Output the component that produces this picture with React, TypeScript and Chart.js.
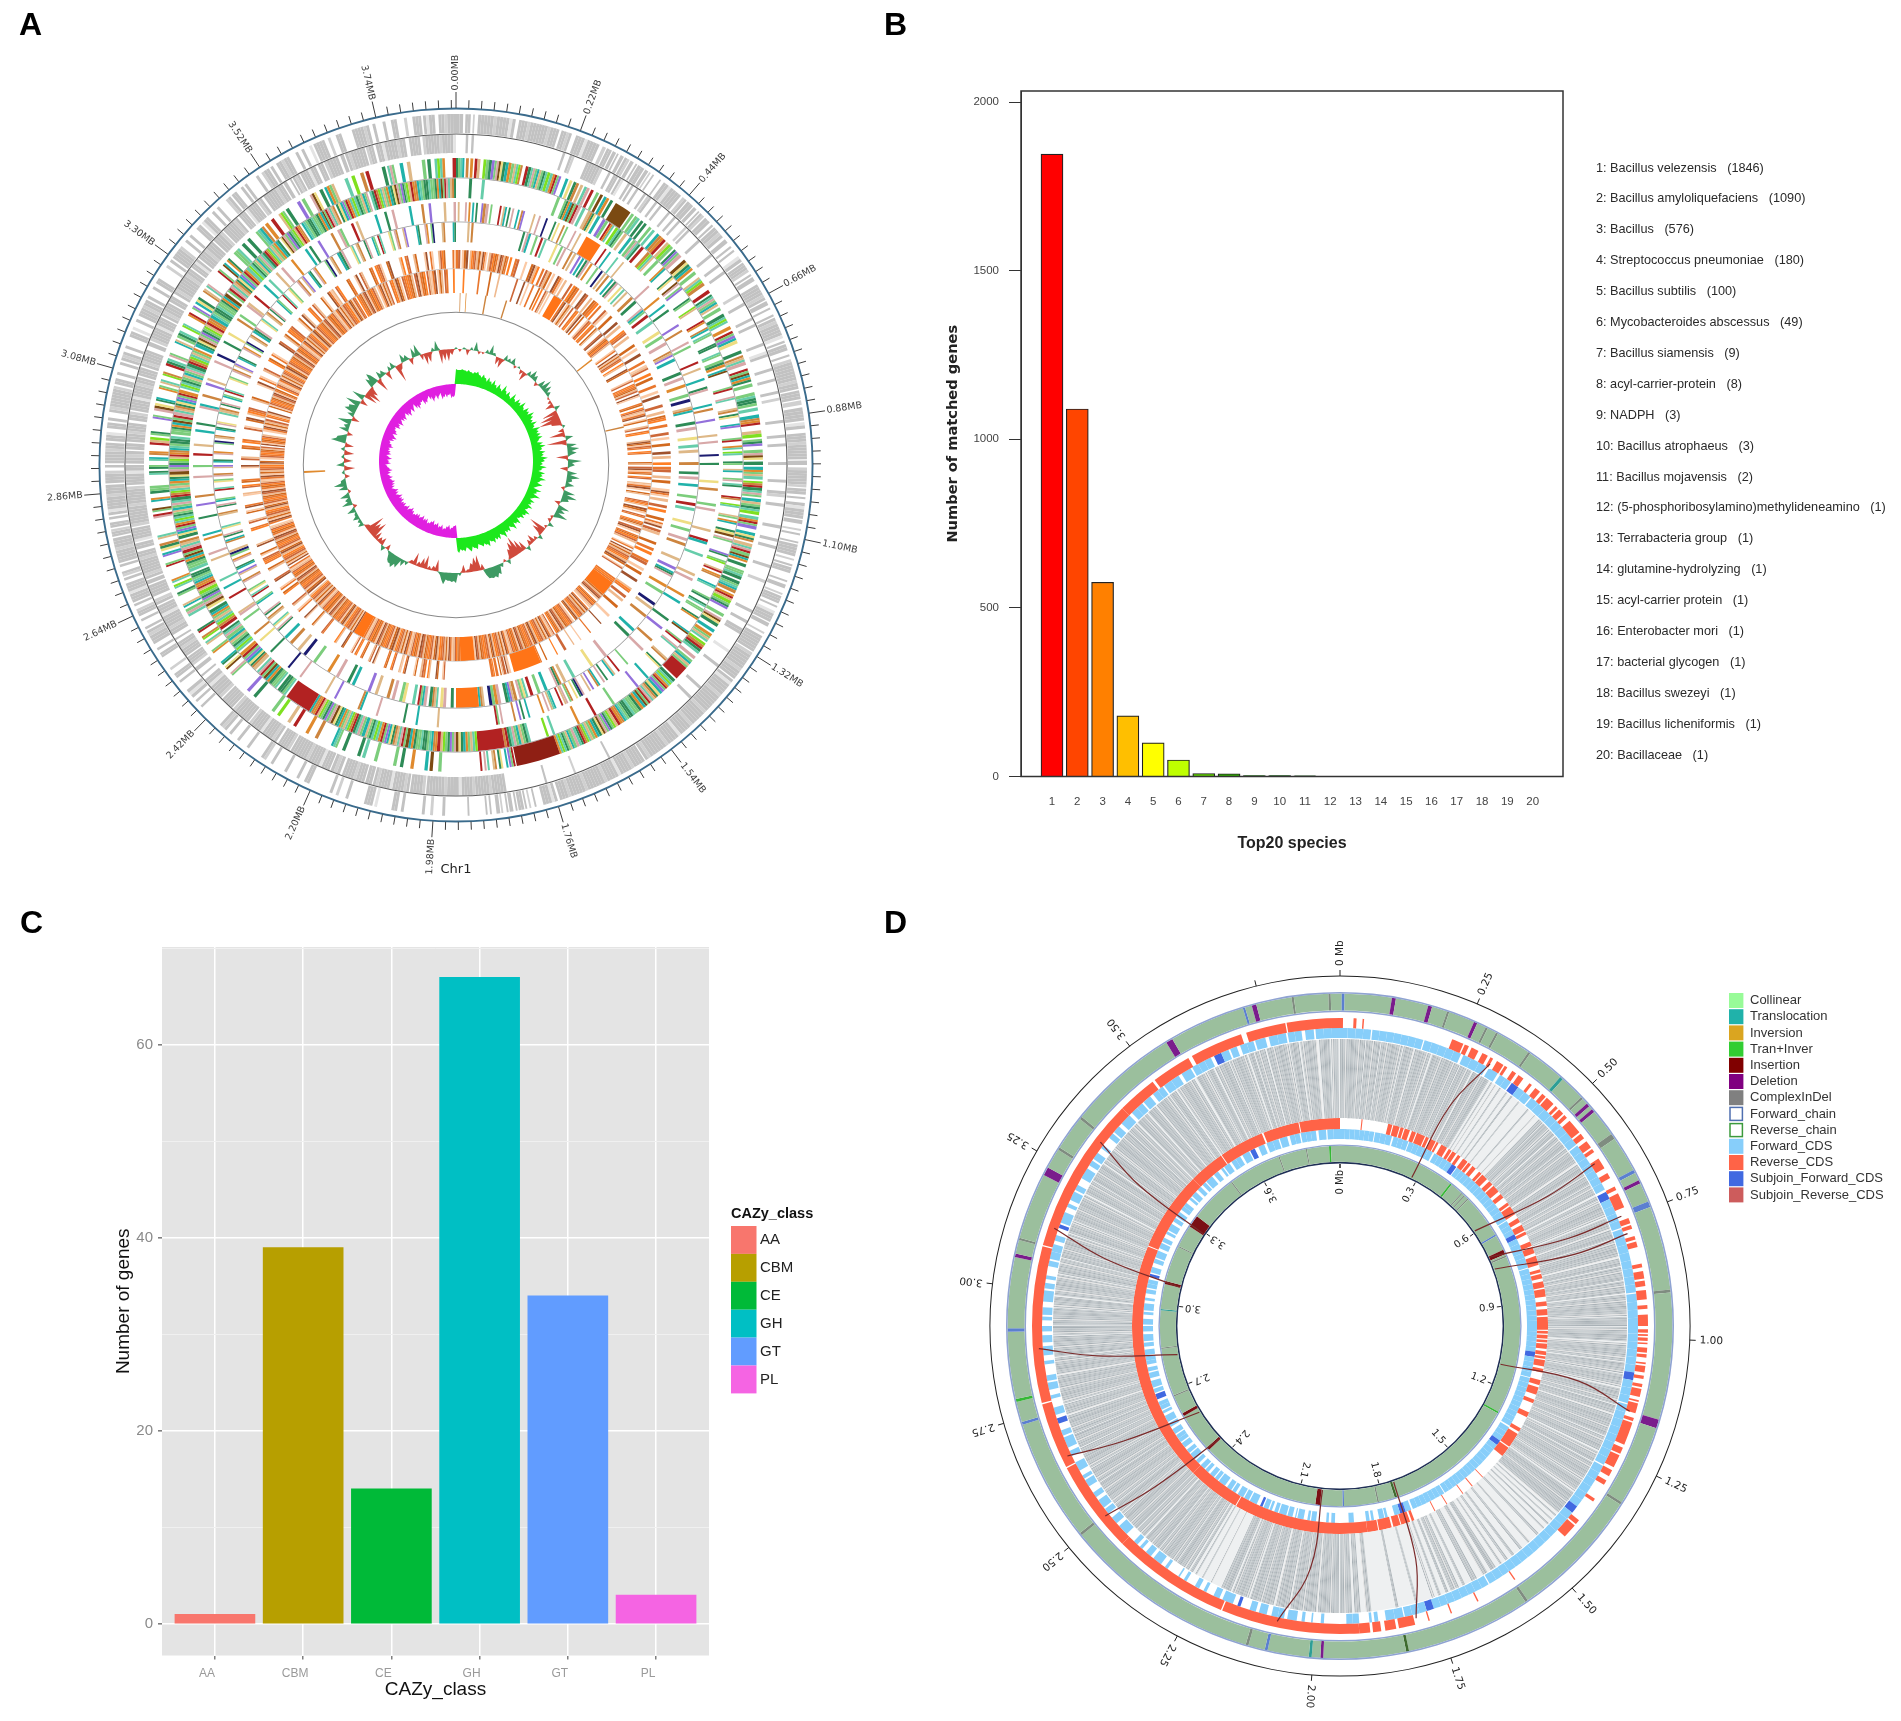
import React, { useEffect, useRef } from "react";
import { Chart, registerables } from "chart.js";
Chart.register(...registerables);

const SANS = "'Liberation Sans', Arial, sans-serif";
const DEJA = "'DejaVu Sans', sans-serif";

// ---------- Panel B ----------
const speciesRank = [1,2,3,4,5,6,7,8,9,10,11,12,13,14,15,16,17,18,19,20];
const speciesCounts = [1846,1090,576,180,100,49,9,8,3,3,2,1,1,1,1,1,1,1,1,1];
const speciesNames = ["Bacillus velezensis","Bacillus amyloliquefaciens","Bacillus","Streptococcus pneumoniae","Bacillus subtilis","Mycobacteroides abscessus","Bacillus siamensis","acyl-carrier-protein","NADPH","Bacillus atrophaeus","Bacillus mojavensis","(5-phosphoribosylamino)methylideneamino","Terrabacteria group","glutamine-hydrolyzing","acyl-carrier protein","Enterobacter mori","bacterial glycogen","Bacillus swezeyi","Bacillus licheniformis","Bacillaceae"];
const speciesColors = ["#FF0000","#FF4500","#FF8000","#FFBF00","#FFFF00","#BFFF00","#60D000","#30B000","#109000","#008000","#006000","#004000","#003000","#003000","#003000","#003000","#003000","#003000","#003000","#003000"];
const speciesTicks = [0,500,1000,1500,2000];

// ---------- Panel C ----------
const cazyClasses = ["AA","CBM","CE","GH","GT","PL"];
const cazyCounts = [1,39,14,67,34,3];
const cazyColors = ["#F8766D","#B79F00","#00BA38","#00BFC4","#619CFF","#F564E3"];

// ---------- Palette for the ring tracks ----------
const P: Record<string,string> = {
  g:"#2E8B57",l:"#7CCD7C",m:"#66CDAA",t:"#20B2AA",o:"#CD853F",e:"#E08A2E",y:"#DEB887",r:"#B22222",c:"#7FE020",n:"#1C1C70",p:"#9370DB",k:"#D8A8A8",b:"#7B4A12",s:"#EEDD82",d:"#8F1F14",
  a:"#E9772E",f:"#CD6839",h:"#D2691E",i:"#FBC9A5",j:"#FF7F24",q:"#A0522D",v:"#EFB98E",O:"#FF7417",
  w:"#C2C2C2",z:"#D0D0D0",W:"#E4E4E4",x:"#B4BBBF",X:"#C4CACD",Z:"#A9B1B6",R:"#FF6347",S:"#E0705F",C:"#87CEFA",B:"#4169E1",
};
const cogColors = "glmtoeryclgplkbsgtelymcorgmkltylgmcmerlptsgoymkrlbtegllmg";
const orangeColors = "afihqvjafvhiqaivfjhaiqfvhaj";

// ---------- Panel A tracks: per 45 degree sector, gap, mark, gap, mark ... ----------
const aTrack1 = [
 [0,4,2,3,2,1,3,21,3,23,2,6,4,14,3,2,1,3,1,2,1,1,2,2,1,3,1,2,2,1,1,4,1,2,1,1,2,1,6,1,3,12,2,3,1,4,1,2,2,1,1,3],
 [1,3,2,1,1,6,2,2,3,1,2,1,4,3,1,5,2,1,1,2,3,8,1,2,2,1,4,1,1,10,2,1,1,3,3,1,2,14,1,4,1,2,2,6,1,3,3,12,1,2],
 [2,10,1,3,2,1,3,8,1,2,4,1,2,1,5,1,1,6,2,1,3,1,1,3,6,1,2,2,4,1,1,4,2,1,3,6,1,2,5,1,2,9,1,16,1,22],
 [0,40,1,50,2,8,6,1,3,1,2,1,1,3,1,1,2,2,1,1,3,1,1,2,4,1,2,1,14,1,10],
 [6,1,5,1,3,1,10,1,2,2,8,1,1,3,9,1,4,1,2,1,12,2,3,1,6,1,7,1,3,2,8,1,5,1,4,1,2,3,9],
 [5,1,3,1,2,4,6,1,2,2,3,1,8,2,2,1,3,6,1,1,4,1,2,3,2,1,1,8,2,1,1,2,3,1,1,10,1,3,1,2,2,1,1,12,1,5,2,1],
 [1,7,1,3,2,2,1,1,3,9,1,2,2,1,4,1,1,3,2,1,5,2,1,1,3,1,2,6,1,1,4,1,2,2,7,1,2,1,1,5,3,1,2,1,4,2,1,3],
 [3,1,2,1,5,2,1,2,3,1,1,1,6,1,2,3,1,1,2,5,4,1,2,1,3,1,1,4,2,1,3,2,6,6,2,1,4,1,3,2,4,1,3,3,1,4,2,6],
];
const aTrack2 = [
 [6,1,2,1,55,1,3,2,8,7,4,1,2,2,1,2,3,1,1,1,2,1,4,1,1,2,3,1,2,1,5,1,3,1,2,1,4,1,1,1],
 [6,1,8,1,5,1,3,1,12,1,4,1,7,1,2,1,9,1,3,2,6,1,4,1,5,1,2,1,10,1,6,1,3,1,8,1],
 [7,1,4,2,3,1,9,1,5,1,2,1,8,1,6,1,14,1,4,1,3,2,9,1,7,1,12,1,5,1],
 [70,1,25,1,20,1,28,24],
 [0,18,1,9,1,22,1,4,1,14,2,6,1,26,1,8,2,20,1,12,1,8],
 [1,12,3,1,4,2,2,5,1,8,2,1,3,16,1,3,2,6,1,2,1,14,2,3,1,7,1,20,1,10],
 [1,6,1,3,1,9,2,4,1,16,1,4,1,8,3,2,1,12,1,7,1,3,2,14,1,5,1,10,1,6],
 [1,10,2,4,1,7,1,3,2,12,1,2,3,1,1,4,1,9,2,3,1,8,2,2,1,11,1,4,2,16,3,6,2,18],
];
const aTrack3 = [
 [0,3,1,1,1,1,1,2,2,2,0,2,0,3,0,2,0,2,0,3,2,2,0,3,0,3,0,2,0,3,3,1,1,1,1,2,1,1,1,2,1,1,2,1,1,1,1,2,1,1,2,11,1,1,1,2,1,1,1,1,2,1,1,1,2,1,0,2,0,1,1,1,0,2],
 [1,2,0,1,2,1,0,3,1,1,2,2,0,1,3,1,1,2,0,2,1,1,2,1,0,2,2,1,1,3,0,1,4,1,1,2,0,1,2,2,0,2,1,1,3,1,0,3,1,1,2,1,0,2,3,1,0,1,1,2,2,1,0,2,1,1],
 [1,1,0,2,0,1,1,2,0,1,0,2,1,1,0,3,0,1,1,1,0,2,0,1,2,1,0,2,1,1,0,2,0,1,0,2,1,1,2,2,0,1,1,1,0,2,0,1,1,2,0,1,0,2,3,1,1,2,0,1,2,1,1,1,0,2,1,4,2,1,1,3,0,8,1,1],
 [0,2,0,3,0,1,0,4,0,2,0,3,0,2,0,1,0,4,0,5,0,3,0,2,0,4,0,3,0,2,0,3,0,6,0,3,0,2,0,4,0,3,0,2,0,3,0,40,1,2,0,1,1,1,3,1,0,1,2,2,3,1,1,1,2,1,22],
 [8,1,3,1,1,1,6,1,4,1,2,1,9,1,5,1,1,1,7,1,3,2,8,1,4,1,6,1,2,1,5,1,2,1,11,1,3,1,6],
 [4,1,2,1,1,1,5,1,3,1,1,1,2,1,7,2,1,1,4,1,2,1,1,1,6,1,3,1,1,2,2,1,8,1,1,1,3,1,2,2,5,1,1,1],
 [2,1,1,1,3,2,1,1,6,1,2,2,1,1,4,1,1,1,2,1,3,2,1,1,5,1,1,2,2,1,4,1,2,1,1,2,3,1,1,1,7,1,2,1,1,1,3,2],
 [2,1,2,1,4,3,1,1,2,1,3,2,1,1,5,1,1,1,3,2,2,1,1,3,6,1,2,1,3,1,1,1,7,1,1,2,3,1,2,1,6,1,1,1,2,3,4,1],
];
const aTrack4 = [
 [8,1,6,1,45,1,3,2,0,3,0,1,1,1,2,1,0,2,1,1,2,1,0,1,1,2,1,1,0,2,1,1,2,1,1,1,0,2,1,1,3,1,0,2,2,1],
 [3,1,4,1,2,1,1,1,5,1,3,1,6,1,2,1,1,1,4,1,3,1,2,2,1,1,7,1,3,1,4,1,1,1,3,1,5,1,2,1,1,1,3,1],
 [2,1,3,1,1,1,5,1,2,1,4,1,1,1,3,2,1,1,6,1,2,1,3,1,1,1,4,1,5,1,2,1,1,1,3,1,7,1,4,1,2,1,6,1,3,1],
 [10,1,8,1,20,1,14,1,12,1,18,1,3,1,12,1,0,2,0,3,0,2,0,3,0,20,0,3,0,2,0,4],
 [0,2,0,3,0,1,0,4,0,2,0,3,0,1,0,2,0,4,0,2,0,3,0,2,0,1,0,3,0,4,0,2,0,3,0,2,0,4,0,15,1,2,0,1,1,2,0,1,0,3,0,2,1,1],
 [0,2,0,3,0,1,1,2,0,3,0,1,0,2,1,1,0,3,0,2,0,1,1,3,0,2,0,1,0,4,0,2,1,1,0,3,0,2,0,1,0,3,1,1,0,2,0,4,0,2,0,3,0,1,0,2,0,3,0,2,0,1,0,2],
 [0,4,0,2,0,3,1,1,0,2,0,3,0,1,0,2,0,4,0,1,1,2,0,3,0,2,0,1,0,3,0,2,1,1,0,4,0,2,0,3,0,1,0,2,0,3,0,2,0,1,1,3,0,2,0,4,0,1,0,2],
 [0,3,0,2,0,1,0,4,1,1,0,2,0,3,0,1,1,2,0,3,0,2,0,1,0,3,1,2,0,1,0,2,0,4,0,1,1,2,0,3,0,2,0,3,0,1,0,2,0,4,0,2,0,3,0,1,0,3],
];
const aTrack5 = [
 [1,1,3,1,1,1,1,1,1,1,2,1,0,3,1,1,4,1,1,2,1,1,1,1,2,1,1,2,5,1,2,1,3,1,4,1,1,1,2,1,1,1,4,1,2,1,3,9,3,1,2,1,4,1,3,1,13],
 [4,1,6,1,3,1,2,1,7,1,2,1,5,1,1,1,7,1,2,1,4,1,3,2,6,1,1,1,4,1,6,1,2,1,5,1,3,1],
 [6,1,2,1,5,1,1,1,7,1,3,2,4,1,7,1,1,1,6,1,2,1,7,1,3,1,5,1,4,1],
 [10,1,5,1,2,2,3,1,1,1,2,1,0,1,2,1,1,1,3,1,0,2,1,1,2,1,0,1,1,2,1,1,3,1,0,2,1,1,2,1,7,1,2,1,1,1,2,1,6,1,1,2,22],
 [8,1,9,1,5,1,12,1,7,2,11,1,4,1,13,1,6,1,10,1],
 [6,1,3,1,7,1,2,2,7,1,4,1,3,1,9,1,2,1,6,1,1,1,7,1,5,1,3,1,8,1,4,1],
 [4,1,3,1,5,1,2,1,6,2,3,1,4,1,1,1,7,1,2,1,5,1,3,1,6,1,1,1,4,2,3,1,5,1,2,1],
 [3,1,2,1,4,1,6,1,1,1,3,1,5,1,2,2,4,1,1,1,7,1,3,1,2,1,6,1,4,1,2,1,5,1,3,1],
];
const aTrack6 = [
 [7,1,1,1,30,1,1,2,3,1,2,1,1,1,6,1,2,1,1,1,3,1,1,1,2,1,1,1,1,2,1,1,3,1,2,1,1,1,1,1,2,1,1,2,2,1,1,1,1,1],
 [2,1,1,1,3,2,1,1,2,1,4,1,1,1,2,1,3,2,1,1,5,1,1,1,2,1,3,1,1,1,2,2,4,1,1,1,3,1,2,1,1,1,4,1],
 [3,1,1,1,2,1,4,1,2,1,1,1,5,1,2,1,3,1,1,1,6,1,3,1,1,2,4,1,2,1,5,1,1,1,3,1,7,1,2,1],
 [12,1,6,1,8,1,3,1,1,2,4,1,2,1,2,1,1,3,1,1,0,2,0,1,2,1,0,1,0,1,0,1,2,2,0,10],
 [1,1,2,1,0,1,1,2,0,1,1,1,0,2,1,1,3,1,0,1,2,1,1,1,4,1,2,1,6,1,1,1,4,1,3,1,6,1,4,1,2,1,3,1,2,1],
 [3,1,1,1,2,1,1,1,4,1,2,1,1,1,3,1,2,1,1,1,2,1,1,2,3,1,1,1,2,1,4,1,2,1,1,1,3,1,2,1,1,1,2,1],
 [1,1,2,1,3,1,1,1,2,1,1,1,3,2,1,1,2,1,1,1,4,1,2,1,1,1,2,1,3,1,1,1,2,1,1,2,3,1,2,1,1,1,3,1,2,1],
 [2,1,3,1,1,1,2,1,1,1,4,1,1,1,2,2,3,1,1,1,2,1,2,1,1,1,3,1,1,1,2,1,4,1,2,1,1,1,3,1,3,1],
];
const aTrack7 = [
 [0,2,1,1,0,2,1,3,0,2,0,3,1,2,0,4,0,3,1,1,2,2,4,1,3,1,0,2,0,1,2,1,1,2,0,1,1,1,2,1,0,2,1,1,3,1,1,1,0,2,1,1,2,1,0,1,2,1,1,1,0,2,1,1,3,2],
 [2,1,3,1,1,1,2,2,1,1,4,1,1,1,2,1,3,1,1,2,2,1,1,1,3,1,2,1,1,1,4,1,2,1,1,2,2,1,3,1,1,1,2,1,3,1,1,1,2,1],
 [1,1,0,1,2,1,1,1,3,1,0,2,1,1,2,1,1,1,3,1,1,2,1,1,0,1,4,1,2,1,1,1,3,1,0,1,2,1,1,1,3,1,4,2,2,1,1,1,3,1,5,1],
 [10,1,14,1,12,1,8,1,9,2,8,1,12,1,5,1,0,32,3,2,0,1,1,2,0,1,1,1,2,2,1,1,0,2,40],
 [6,1,2,1,3,1,1,2,2,1,4,1,1,1,3,1,2,1,5,1,1,1,3,1,2,1,1,1,4,1,3,1,7,1,5,1,4,1],
 [3,1,2,1,5,1,1,1,3,1,4,1,2,2,1,1,3,1,6,1,2,1,3,1,1,1,4,1,2,1,1,1,5,1],
 [2,1,3,1,1,1,4,1,2,1,1,2,3,1,5,1,1,1,2,1,3,1,1,1,4,1,2,1,1,2,3,1,1,1],
 [2,1,1,1,3,1,2,2,1,1,4,1,2,1,1,1,3,1,1,2,2,1,4,1,1,1,2,1,3,1,1,1,2,2,3,1],
];
const aTrack8 = [
 [6,1,12,1,8,1,6,1,14,1,5,1,2,1,3,1,4,1,1,1,2,2,1,1,3,8,1,2,1,1,0,2,1,1,2,1,0,1,1,2,1,1,3,1,0,2,1,2],
 [1,1,2,1,1,2,0,1,3,1,1,1,0,2,1,1,2,1,4,1,1,1,0,2,1,1,3,1,1,2,0,1,1,1,2,1,1,1,3,1,0,2,1,1,4,1],
 [1,2,0,1,1,1,2,1,0,2,1,1,3,1,0,1,1,2,1,1,2,1,0,1,1,2,1,1,0,2,2,1,1,1,0,3,0,2,1,1,6,2,0,8,0,3,1,1],
 [0,3,1,2,0,4,0,2,1,1,0,3,0,4,0,2,1,2,0,3,0,5,0,2,0,4,0,3,0,6,0,4,0,2,0,5,0,3,0,10,0,2],
 [0,4,0,3,0,2,0,5,0,3,0,2,0,4,0,6,0,3,0,2,0,4,0,3,0,2,0,5,0,8,0,3,0,2,0,4,0,5,0,3,0,2,0,4],
 [0,3,0,2,1,4,0,3,0,2,0,5,1,2,0,4,0,3,0,2,0,6,0,2,1,3,0,4,0,2,0,5,0,3,0,2,0,4,0,3],
 [0,2,1,1,0,3,0,2,1,2,0,3,2,1,0,4,0,1,1,3,3,2,0,2,0,3,0,2,1,4,0,3,0,2,0,5,0,3,0,6,0,4,0,2,0,5],
 [0,6,0,3,0,7,0,4,0,5,1,2,0,6,0,3,1,1,0,5,2,2,0,4,1,1,0,3,0,2,1,4,0,2,1,3,0,2,1,1,0,2,1,2,4,1,1],
];
const aTrack9 = [[5,1,7,1,25,2,26,2,110],[28,2,98,2,50],[180],[180],[180],[180],[180],[180]];
const aTrack10 = [[180],[180],[180],[180],[180],[168,3,9],[180],[180]];

// Panel A inner plots: one peak value per even degree and one value per odd degree
const aGeneForward = [15,14,15,14,15,13,14,15,12,14,11,13,10,13,9,12,8,14,9,11,7,13,8,12,10,14,9,13,11,15,12,10,13,9,14,11,12,13,8,12,14,10,13,11,15,12,10,14,9,13,11,15,9,13,7,14,10,15,8,12,10,13,9,14,11,12,8,13,10,14,9,12,11,15,10,13,12,14,11,15,12,13,10,14,12,15,11,14,13,15];
const aGeneForwardOdd = [14,14,14,13,13,12,13,12,10,11,8,9,7,8,6,8,6,9,6,7,5,8,6,8,7,9,7,9,8,10,8,7,8,6,9,8,8,9,6,8,9,7,9,8,10,8,7,9,6,9,8,10,7,9,5,9,7,10,6,8,7,9,7,10,8,8,6,9,7,10,7,9,8,11,8,10,9,11,9,12,10,11,9,12,10,13,10,12,11,13];
const aGeneReverse = [13,12,10,13,11,9,12,10,13,11,14,12,10,13,12,14,11,13,12,10,12,14,11,13,10,12,11,13,12,14,10,12,13,9,11,12,13,10,12,9,11,13,10,8,12,10,13,9,12,11,10,13,11,9,12,14,10,13,11,9,13,11,14,10,12,13,9,12,14,10,13,8,12,14,11,9,13,12,8,11,14,10,13,9,14,12,13,11,14,13];
const aGeneReverseOdd = [12,10,8,10,8,7,9,8,10,9,11,9,8,10,9,11,9,10,9,8,10,11,8,10,8,9,8,10,9,11,8,9,10,7,8,9,10,8,9,7,8,10,8,6,9,8,10,7,9,8,8,10,8,7,9,11,8,10,8,7,10,8,11,8,9,10,7,9,11,8,10,6,9,10,8,7,10,9,6,8,11,8,10,7,11,9,10,9,12,11];
const aSkew = [
 2,-3,2,-6,3,9,-3,-2,4,10,3,-8,-10,6,4,7,-3,2,-5,-10,5,9,6,-4,8,12,9,5,-2,-4,
 -9,6,-16,-20,-22,-10,3,-6,-16,8,-20,10,12,9,-12,14,7,-8,10,13,6,9,-4,12,15,8,-6,12,9,14,
 -3,-4,6,-3,-18,-12,5,-4,-9,-6,5,-10,-14,-20,-16,-10,5,-3,4,10,12,11,10,-6,-16,-14,-9,-3,-8,3,
 10,9,8,12,3,-12,-5,-4,-14,-10,-5,-13,-4,4,7,11,13,10,3,-6,5,-8,-6,-9,-18,-14,-20,-4,6,4,
 7,3,9,-4,11,6,10,-3,9,13,5,-5,3,-11,8,-8,3,-10,4,-9,15,9,-6,10,6,14,-8,7,12,9,
 15,-8,13,-14,-16,-10,10,13,-14,8,6,-9,5,7,-18,-5,9,6,-7,10,12,-6,-12,-10,4,10,-14,-11,-12,-6];
const aSkewOdd = [
 0,0,1,-1,0,2,0,0,1,2,0,-2,-3,1,1,2,0,0,-1,-2,1,3,1,-1,2,3,2,1,0,-1,
 -2,1,-4,-8,-10,-2,0,-1,-3,2,-5,3,4,3,-2,4,2,-1,3,5,2,3,-1,4,6,2,-1,4,3,5,
 -1,-1,1,0,-6,-3,1,-1,-2,-1,1,-3,-6,-10,-8,-3,1,0,2,8,10,10,6,-2,-8,-7,-3,-1,-2,1,
 8,8,7,8,1,-3,-1,-1,-4,-3,-1,-3,-1,1,2,8,10,8,1,-1,2,-3,-1,-2,-9,-8,-5,-1,2,1,
 3,1,3,-1,4,2,3,-1,3,5,1,-1,1,-3,2,-2,1,-3,1,-2,10,4,-1,3,2,5,-2,2,8,3,
 6,-2,4,-4,-6,-3,6,9,-3,3,2,-2,1,2,-6,-1,3,2,-2,3,4,-1,-3,-3,1,3,-4,-3,-3,-1];

const aLabels = ["0.00MB","0.22MB","0.44MB","0.66MB","0.88MB","1.10MB","1.32MB","1.54MB","1.76MB","1.98MB","2.20MB","2.42MB","2.64MB","2.86MB","3.08MB","3.30MB","3.52MB","3.74MB"];

// ---------- Panel D tracks ----------
const dRevOuter = [
 [0,2,7,2,4,1,60,8,1,3,2,5,3,4,2,2,3,5,1,2,4,3,2,4,5,2,3,4,2,3,1,6,2,2],
 [1,3,1,2,2,8,1,3,2,4,1,2,4,6,3,3,5,2,2,8,6,3,1,2,4,2,1,3,9,2,2,4,1,3,2,5,3,2,3,6],
 [2,2,1,1,1,2,1,1,2,3,1,2,3,1,1,4,2,2,3,2,1,5,2,1,1,6,3,2,1,14,2,4,1,8,2,4,3,3,10,2,14,3,1,9,6],
 [40,1,30,1,20,1,16,1,10,12,2,8,3,6,2,8,0,14],
 [0,90,1,89],[0,70,1,50,1,58],[0,60,1,119],
 [0,30,2,30,3,40,4,30,1,40],
];
const dFwdOuter = [
 [0,24,1,40,1,30,2,20,2,8,2,10,1,18,1,20],
 [0,30,1,40,2,30,1,50,1,25],
 [0,60,1,50,1,68],
 [0,60,1,70,1,14,6,3,2,2,8,10,5],
 [10,2,5,1,4,2,3,6,2,8,3,5,2,4,6,2,3,7,2,4,5,2,3,3,6,2,3,1,8,2,3,6,2,4,3,2,2,3,4],
 [2,6,2,4,3,3,1,5,2,3,4,4,1,2,3,5,4,3,2,6,1,3,4,3,2,4,5,2,3,4,1,3,6,2,3,5,2,4,2,3],
 [3,2,1,4,3,6,1,3,2,2,5,3,1,8,2,3,4,2,1,6,3,2,2,5,1,3,4,6,2,3,1,4,3,2,5,3,1,4,2,6],
 [2,8,1,5,2,7,1,10,2,6,1,12,2,9,1,4,2,8,1,6,2,10,1,8,2,5,1,14],
];
const dRevInner = [
 [20,1,24,4,1,6,1,3,1,5,2,4,1,8,1,3,2,5,1,2,3,6,2,3,1,4,2,3,3,5,1,3,2,4,4,3,1,6],
 [2,3,1,5,2,3,4,2,1,6,3,3,2,4,1,2,5,3,1,4,2,6,3,2,1,3,2,4,1,5,3,3,2,4,1,6],
 [0,3,1,2,1,3,1,2,1,4,2,3,1,2,1,5,2,3,6,4,2,6,4,3,8,4,10,3,2,12,1,8,18],
 [6,1,14,1,12,1,20,1,14,1,24,3,2,10,1,8,2,14,1,12,0,30],
 [0,120,1,59],[0,180],[0,90,1,89],
 [0,40,1,50,2,40,1,45],
];
const dFwdInner = [
 [0,40,1,20,2,18,1,30,2,30,1,34],
 [0,50,1,60,1,68],
 [0,60,1,60,2,56],
 [0,50,1,40,2,20,8,3,1,6,6,3,2,4,14,6,10],
 [4,3,2,2,8,4,1,2,3,5,1,1,2,4,1,6,1,3,2,2,1,4,1,2,3,6,1,4,1,5,2,3,1,4,2,6,1,3,1,4,2,3,1,4],
 [2,3,1,5,1,3,2,4,1,6,1,4,2,3,1,5,2,2,1,6,2,4,1,3,1,5,2,4,1,3,2,6,1,4,2,3,1,5,2,4],
 [1,4,3,2,1,5,2,2,3,3,1,6,2,2,1,4,3,3,1,5,2,4,1,3,3,2,1,5,2,3,1,4,2,6,3,2,1,4,2,3],
 [2,3,1,6,2,4,3,2,1,5,2,8,2,6,1,4,3,5,2,10,1,6,2,8,1,12,2,6,1,10],
];
const dLinks = [
 [0,14,1,8,1,12,1,6,1,9,2,16,1,7,2,10,3,1,4,1,5,1,8,1,6,1,10,1,14,1,10,1,6,3],
 [1,6,1,4,2,10,1,12,2,6,1,9,1,7,3,3,1,11,2,8,1,6,1,12,2,5,1,9,1,8,2,14,1,6],
 [1,8,2,10,1,6,1,7,2,9,1,5,1,12,1,8,2,6,1,11,1,7,2,14,3,1,5,1,5,1,6,1],
 [5,1,7,1,6,1,6,1,4,1,3,1,4,2,3,2,5,2,6,1,3,3,2,1,4,1,3,1,12,1,14,1,20,2,4,2,2,4],
 [2,12,1,16,1,8,2,14,2,10,2,6,14,1,12,1,8,1,4,2,2,8,1,12,1,10,2,6],
 [1,12,1,8,1,16,1,10,1,14,1,9,1,12,1,7,1,18,1,11,1,13,1,6],
 [1,10,1,6,2,12,1,9,1,14,1,7,1,16,2,8,1,11,2,9,1,13,1,6,1],
 [1,7,2,5,1,9,1,4,2,11,3,6,1,4,2,8,1,10,2,3,1,6,2,12,1,5,2,9,3,6,1,4,2],
];
const EV: Record<string,string> = {B:"#5B7FD0",P:"#7A1C8C",G:"#7F8C80",T:"#2E9E96",D:"#3E6B2E",L:"#35B835",M:"#7A0F14"};
const dOuterEventDeg = [0.3,9,15.4,18.8,23.8,26,28,34.5,41.5,46.5,48,49.3,54.7,62,64,68,83.7,106.4,122,145.6,168,182.9,184.9,192.6,196,231,252.7,256.8,269,282,285,297,302,308.5,328.5,343,344.6,351.6,358];
const dOuterEventWidth = [.5,.7,.7,.4,.6,.4,.4,.4,.6,.4,.6,.6,1,.6,.6,1,.5,1.5,.5,.5,.5,.5,.5,.5,.5,.5,.5,.5,.6,.6,.4,1.5,.5,.5,1.2,.4,.8,.4,.4];
const dOuterEventType = "BPPGPGGGTGPPGBPBGPGGDPTBGGBLBPGPGGPBPGG";
const dInnerEventDeg = [37.7,42.4,43.5,45,59.5,65,67,118.4,161.5,167.5,178.7,186.4,226.6,240,247,262.7,275,283.5,296,303.5,322.8,340,349,356.5];
const dInnerEventWidth = [.6,.4,.4,.4,.5,1.5,.5,.6,.8,.5,.5,1.5,1,1,.4,.4,.4,1,.4,4,.4,.4,.4,.6];
const dInnerEventType = "LGGGBMGLDGBMMMGGTMGMGGGL";
// inner angle, bend angle, outer angle of each insertion link
const dInsertionLinks = [[25.8,26.5,29.8],[54.8,58,57.5],[65.3,69,68.7],[69.8,73,72.2],[103.4,103,106.4],[186.1,187,192],[226.9,229,231],[238.5,242,244.5],[260,263,265.7],[283.6,286,288.9],[304,305,307.5],[161,162,165.4]];
const dOuterLabels = ["0 Mb","0.25","0.50","0.75","1.00","1.25","1.50","1.75","2.00","2.25","2.50","2.75","3.00","3.25","3.50",""];
const dInnerLabels = ["0 Mb","0.3","0.6","0.9","1.2","1.5","1.8","2.1","2.4","2.7","3.0","3.3","3.6"];
const dLegendNames = ["Collinear","Translocation","Inversion","Tran+Inver","Insertion","Deletion","ComplexInDel","Forward_chain","Reverse_chain","Forward_CDS","Reverse_CDS","Subjoin_Forward_CDS","Subjoin_Reverse_CDS"];
const dLegendColors = ["#98FB98","#20B2AA","#DAA520","#32CD32","#800000","#800080","#808080","#FFFFFF","#FFFFFF","#87CEFA","#FF6347","#4169E1","#CD5C5C"];
const dLegendEdges = ["","","","","","","","#4F6FB0","#3C9A3C","","","",""];

// ---------- helpers ----------
type Track = { out:number; inn:number; solid?:string; sectors?:number[][]; colors?:string; blocks?:string; gap?:string; values?:number[]; fills?:string[]; boost?:number; split?:number };

function buildSectors(t: Track) {
  const values:number[] = []; const fills:string[] = [];
  let ci = 0, bi = 0;
  const keys = t.colors || "w"; const blocks = t.blocks || "";
  const boost = t.boost || 1; const split = t.split || 1e9;
  (t.sectors || []).forEach(sec => {
    const sized = sec.map((w,i)=> (i%2===1 && (blocks==="" || w<8)) ? w*boost : w);
    const sum = sized.reduce((a,b)=>a+b,0);
    const k = 180/sum;
    sec.forEach((w,i) => {
      const size = sized[i]*k;
      if (i%2===0) { values.push(size); fills.push(t.gap || "rgba(0,0,0,0)"); }
      else if (w>=8 && bi<blocks.length) { values.push(size); fills.push(P[blocks[bi++]]); }
      else {
        const n = Math.max(1, Math.round(size/split));
        for (let j=0;j<n;j++) { values.push(size/n); fills.push(P[keys[ci++ % keys.length]]); }
      }
    });
  });
  return {values, fills};
}
function buildEvents(deg:number[], width:number[], types:string, gap:string) {
  const values:number[] = []; const fills:string[] = [];
  let at = 0;
  deg.forEach((d,i) => {
    values.push(Math.max(d-at,0)); fills.push(gap);
    values.push(width[i]); fills.push(EV[types[i]]);
    at = d+width[i];
  });
  values.push(360-at); fills.push(gap);
  return {values, fills};
}
function ringData(tracks:Track[], R:number) {
  const datasets:any[] = [];
  let prev = R;
  const base = {borderWidth:0, hoverBorderWidth:0, hoverOffset:0, offset:0, spacing:0};
  tracks.forEach(t => {
    if (prev-t.out>0.01) datasets.push({...base, data:[1], backgroundColor:["rgba(0,0,0,0)"], weight:prev-t.out});
    if (t.values) datasets.push({...base, data:t.values, backgroundColor:t.fills, weight:t.out-t.inn});
    else if (t.sectors) { const b = buildSectors(t); datasets.push({...base, data:b.values, backgroundColor:b.fills, weight:t.out-t.inn}); }
    else datasets.push({...base, data:[1], backgroundColor:[t.solid], weight:t.out-t.inn});
    prev = t.inn;
  });
  return {datasets, cutout:prev};
}

// draws axis ticks and rotated position labels round a ring chart
const ringAxisPlugin = {
  id:"ringAxis",
  afterDraw(chart:any, _a:any, opts:any) {
    const {ctx, chartArea:c} = chart;
    const cx=(c.left+c.right)/2, cy=(c.top+c.bottom)/2;
    (opts.axes||[]).forEach((ax:any)=>{
      ctx.save();
      ctx.strokeStyle=ax.color; ctx.lineWidth=ax.width||1; ctx.fillStyle=ax.color; ctx.font=ax.font;
      ctx.textBaseline="middle";
      const n=Math.floor(ax.total/ax.step+1e-6);
      for(let i=0;i<=n;i++){
        const mb=i*ax.step; const deg=mb/ax.total*360; const a=deg*Math.PI/180;
        const major=i%ax.every===0; const to=major?ax.majorTo:ax.minorTo;
        ctx.beginPath();
        ctx.moveTo(cx+ax.from*Math.sin(a),cy-ax.from*Math.cos(a));
        ctx.lineTo(cx+to*Math.sin(a),cy-to*Math.cos(a)); ctx.stroke();
        const lab=major?ax.labels[i/ax.every]:undefined;
        if(lab){
          ctx.save();
          ctx.translate(cx+ax.labelR*Math.sin(a),cy-ax.labelR*Math.cos(a));
          if(ax.flip && deg>=180){ctx.rotate((deg-270)*Math.PI/180);ctx.textAlign="right";}
          else {ctx.rotate((deg-90)*Math.PI/180);ctx.textAlign=ax.align;}
          ctx.fillText(lab,0,0);
          ctx.restore();
        }
      }
      ctx.restore();
    });
  }
};
// panel fill / frame, legend boxes and free captions
const panelPlugin = {
  id:"panel",
  beforeDraw(chart:any,_a:any,opts:any){
    if(opts.fill){const {ctx,chartArea:c}=chart;ctx.save();ctx.fillStyle=opts.fill;ctx.fillRect(c.left,c.top,c.right-c.left,c.bottom-c.top);ctx.restore();}
  },
  afterDraw(chart:any,_a:any,opts:any){
    const {ctx,chartArea:c}=chart;
    ctx.save();
    if(opts.frame){ctx.strokeStyle=opts.frame;ctx.lineWidth=1.5;ctx.strokeRect(c.left,c.top,c.right-c.left,c.bottom-c.top);}
    (opts.boxes||[]).forEach((b:any)=>{
      ctx.fillStyle=b.fill;ctx.fillRect(b.x,b.y,b.w,b.h);
      if(b.edge){ctx.strokeStyle=b.edge;ctx.lineWidth=1.5;ctx.strokeRect(b.x+1,b.y+1,b.w-2,b.h-2);}
    });
    ctx.textBaseline="middle";
    (opts.texts||[]).forEach((t:any)=>{
      ctx.fillStyle=t.color||"#333";ctx.font=t.font;ctx.textAlign=t.align||"left";ctx.fillText(t.text,t.x,t.y);
    });
    ctx.restore();
  }
};

const base = {responsive:false, animation:false as const, devicePixelRatio:1, events:[] as string[]};
const quiet = {legend:{display:false}, tooltip:{enabled:false}};
const weave = (a:number[],b:number[]) => a.flatMap((v,i)=>[v,b[i]]);

function ringChart(canvas:HTMLCanvasElement, tracks:Track[], R:number, w:number, h:number, axes:any[], extra:any={}) {
  const {datasets, cutout} = ringData(tracks, R);
  const pad=(h-2*R)/2;
  return new Chart(canvas,{
    type:"doughnut",
    data:{datasets},
    options:{...base, cutout, layout:{padding:{left:pad,top:pad,bottom:pad,right:w-h+pad}}, plugins:{...quiet, ringAxis:{axes}, panel:extra}} as any,
    plugins:[ringAxisPlugin, panelPlugin],
  });
}

export default function App(){
  const aRing=useRef<HTMLCanvasElement>(null), aPlot=useRef<HTMLCanvasElement>(null), bRef=useRef<HTMLCanvasElement>(null), cRef=useRef<HTMLCanvasElement>(null), dRing=useRef<HTMLCanvasElement>(null), dLine=useRef<HTMLCanvasElement>(null);
  useEffect(()=>{
    const charts:Chart[]=[];
    // ---- A rings
    const grey="wwwwzwwwwwzwwwwWwwwwzww";
    const aTracks:Track[]=[
      {out:357.5,inn:355.6,solid:"#3A6B8C"},
      {out:351,inn:332,sectors:aTrack1,colors:grey,boost:1.6,split:2},
      {out:331.6,inn:330.5,solid:"#5A5A5A"},
      {out:330.5,inn:312,sectors:aTrack2,colors:grey,boost:1.5,split:2},
      {out:307,inn:287.6,sectors:aTrack3,colors:cogColors,blocks:"brd",boost:1.8,split:1.8},
      {out:287.6,inn:286.8,solid:"#9A9A9A"},
      {out:286.8,inn:267,sectors:aTrack4,colors:cogColors.split("").reverse().join(""),blocks:"rr",boost:1.8,split:1.8},
      {out:263,inn:243.6,sectors:aTrack5,colors:"yketgpoklrytgktopykngsolkyrtm",blocks:"O",split:2},
      {out:243.6,inn:242.8,solid:"#9A9A9A"},
      {out:242.8,inn:223,sectors:aTrack6,colors:"yogktlrmslkoyptgkelnyotgksm",blocks:"O",boost:1.3,split:2},
      {out:215,inn:196.6,sectors:aTrack7,colors:orangeColors,blocks:"O",boost:1.5,split:2},
      {out:196.6,inn:196,solid:"#B0B0B0"},
      {out:196,inn:172,sectors:aTrack8,colors:orangeColors.split("").reverse().join(""),blocks:"OOOO",boost:1.5,split:2},
      {out:172,inn:153.2,sectors:aTrack9,colors:"oeo"},
      {out:153.2,inn:152.2,solid:"#8A8A8A"},
      {out:152.2,inn:131,sectors:aTrack10,colors:"e"},
    ];
    charts.push(ringChart(aRing.current!,aTracks,358,900,900,[
      {total:3.88,step:0.022,every:10,from:357,minorTo:365,majorTo:373,labelR:374.5,labels:aLabels,color:"#3c3c3c",font:`9.5px ${DEJA}`,flip:true,align:"left"},
    ],{texts:[{text:"Chr1",x:450,y:855,font:`13px ${DEJA}`,align:"center",color:"#222"}]}));
    // ---- A inner plots (radar with a 1px = 1 unit radial scale)
    const angles=Array.from({length:360},()=>"");
    const gBase=77, sBase=112;
    const flat=Array.from({length:180},()=>gBase);
    const fwd=weave(aGeneForward,aGeneForwardOdd).map(v=>gBase+v).concat(flat);
    const rev=flat.concat(weave(aGeneReverse,aGeneReverseOdd).map(v=>gBase-v));
    const skew=weave(aSkew,aSkewOdd);
    const up=skew.map(v=>sBase+Math.max(v,0));
    const down=skew.map(v=>sBase+Math.min(v,0));
    const ds=(data:number[],color:string,value:number)=>({data,borderWidth:0,pointRadius:0,backgroundColor:color,fill:{value}});
    charts.push(new Chart(aPlot.current!,{
      type:"radar",
      data:{labels:angles,datasets:[ds(up,"#3E9A63",sBase),ds(down,"#D04A3C",sBase),ds(fwd,"#1CE81C",gBase),ds(rev,"#E01FE0",gBase)]},
      options:{...base,plugins:quiet,scales:{r:{min:0,max:180,grid:{display:false},angleLines:{display:false},pointLabels:{display:false},ticks:{display:false}}}} as any,
    }));
    // ---- B
    const bLegend=speciesNames.map((n,i)=>({text:`${speciesRank[i]}: ${n}   (${speciesCounts[i]})`,x:726,y:168+30.9*i,font:`12.7px ${SANS}`,color:"#2a2a2a"}));
    charts.push(new Chart(bRef.current!,{
      type:"bar",
      data:{datasets:[{data:speciesRank.map((r,i)=>({x:r,y:speciesCounts[i]})),backgroundColor:speciesColors,borderColor:"#222",borderWidth:1.2,barThickness:22}]},
      options:{...base,layout:{padding:{top:91,right:338,left:0,bottom:0}},
        plugins:{...quiet,panel:{frame:"#333",texts:bLegend}},
        scales:{
          x:{type:"linear",min:-0.225,max:21.2,offset:false,afterFit:(s:any)=>{s.height=113.5;},
            afterBuildTicks:(s:any)=>{s.ticks=s.ticks.filter((t:any)=>t.value>=1&&t.value<=20);},
            grid:{display:false,offset:false},border:{display:false},
            ticks:{stepSize:1,autoSkip:false,maxRotation:0,padding:10,includeBounds:false,color:"#444",font:{family:SANS,size:11.5}},
            title:{display:true,text:"Top20 species",color:"#222",font:{family:SANS,size:16,weight:"bold"},padding:{top:0,bottom:37}}},
          y:{min:0,max:2033,afterFit:(s:any)=>{s.width=151;},
            afterBuildTicks:(s:any)=>{s.ticks=speciesTicks.map(value=>({value}));},
            grid:{drawOnChartArea:false,tickLength:12,color:"#333"},border:{color:"#333"},
            ticks:{padding:10,color:"#444",font:{family:SANS,size:11.5},callback:(v:any)=>String(v)},
            title:{display:true,text:"Number of matched genes",color:"#222",font:{family:DEJA,size:14.6,weight:"bold"},padding:{top:74,bottom:0}}},
        }} as any,
      plugins:[panelPlugin],
    }));
    // ---- C
    const cBoxes=cazyClasses.map((_,i)=>({x:731,y:326+27.9*i,w:25.5,h:27.9,fill:cazyColors[i]}));
    const cTexts=[{text:"CAZy_class",x:731,y:314,font:`bold 14.5px ${SANS}`,color:"#111"},
      ...cazyClasses.map((n,i)=>({text:n,x:760,y:340+27.9*i,font:`15px ${SANS}`,color:"#222"}))];
    charts.push(new Chart(cRef.current!,{
      type:"bar",
      data:{datasets:[{data:cazyCounts.map((v,i)=>({x:i+1,y:v})),backgroundColor:cazyColors,barThickness:80,borderWidth:0}]},
      options:{...base,layout:{padding:{top:47,right:151,left:0,bottom:0}},
        plugins:{...quiet,panel:{fill:"#E4E4E4",boxes:cBoxes,texts:cTexts}},
        scales:{
          x:{type:"linear",min:0.4,max:6.6,offset:false,afterFit:(s:any)=>{s.height=65.5;},
            grid:{color:"#FFFFFF",lineWidth:1.5,tickColor:"#7F7F7F",tickLength:4,offset:false},border:{display:false},
            ticks:{stepSize:1,autoSkip:false,maxRotation:0,padding:7,labelOffset:-8,includeBounds:false,color:"#9A9A9A",font:{family:SANS,size:12},callback:(v:any)=>cazyClasses[v-1]},
            title:{display:true,text:"CAZy_class",color:"#111",font:{family:SANS,size:19},padding:{top:0,bottom:20}}},
          y:{min:-3.26,max:70.15,afterFit:(s:any)=>{s.width=162;},
            grid:{color:(c:any)=>c.tick.value%20===0?"#FFFFFF":"#F0F0F0",lineWidth:(c:any)=>c.tick.value%20===0?1.6:1,tickColor:(c:any)=>c.tick.value%20===0?"#7F7F7F":"rgba(0,0,0,0)",tickLength:4},border:{display:false},
            ticks:{stepSize:10,autoSkip:false,includeBounds:false,padding:5,color:"#8A8A8A",font:{family:SANS,size:15},callback:(v:any)=>v%20===0?String(v):""},
            title:{display:true,text:"Number of genes",color:"#111",font:{family:SANS,size:19},padding:{top:112,bottom:0}}},
        }} as any,
      plugins:[panelPlugin],
    }));
    // ---- D rings
    const green="#9BBF9D"; const chain="#8FA3D2";
    const oe=buildEvents(dOuterEventDeg,dOuterEventWidth,dOuterEventType,green);
    const ie=buildEvents(dInnerEventDeg,dInnerEventWidth,dInnerEventType,green);
    const cdsBlue="CCCCCCCCCCCCCCCCCCCCCCBCCCCCCCCCCCCCCCCCB";
    const dTracks:Track[]=[
      {out:350.6,inn:349.6,solid:"#222222"},
      {out:334,inn:332.4,solid:chain},
      {out:332.4,inn:315.6,values:oe.values,fills:oe.fills},
      {out:315.6,inn:314,solid:chain},
      {out:308,inn:298,sectors:dRevOuter,colors:"R"},
      {out:298,inn:288,sectors:dFwdOuter,colors:cdsBlue,split:6},
      {out:287,inn:208,sectors:dLinks,colors:"xXZXxWZXxXZx",gap:"#EEF0F1",boost:2.5,split:0.9},
      {out:208,inn:197,sectors:dRevInner,colors:"R"},
      {out:197,inn:187,sectors:dFwdInner,colors:cdsBlue,split:6},
      {out:181.6,inn:180.2,solid:chain},
      {out:180.2,inn:164.2,values:ie.values,fills:ie.fills},
      {out:164.2,inn:162.6,solid:"#1F2F55"},
    ];
    const dBoxes=dLegendNames.map((_,i)=>({x:1729-940,y:993-926+16.2*i,w:14.4,h:15,fill:dLegendColors[i],edge:dLegendEdges[i]}));
    const dTexts=dLegendNames.map((n,i)=>({text:n,x:1750-940,y:1000.7-926+16.2*i,font:`13px ${SANS}`,color:"#333"}));
    charts.push(ringChart(dRing.current!,dTracks,351,961,800,[
      {total:3.90,step:0.25,every:1,from:350,minorTo:356,majorTo:356,labelR:360,labels:dOuterLabels,color:"#222",font:`10.5px ${DEJA}`,flip:false,align:"left"},
      {total:3.90,step:0.3,every:1,from:162,minorTo:158,majorTo:158,labelR:156,labels:dInnerLabels,color:"#222",font:`10px ${DEJA}`,flip:false,align:"right"},
    ],{boxes:dBoxes,texts:dTexts}));
    // ---- D insertion links
    const pol=(deg:number,r:number)=>({x:r*Math.sin(deg*Math.PI/180),y:r*Math.cos(deg*Math.PI/180)});
    charts.push(new Chart(dLine.current!,{
      type:"scatter",
      data:{datasets:dInsertionLinks.map(l=>({data:[pol(l[0],165),pol(l[1],245),pol(l[2],302)],showLine:true,pointRadius:0,borderWidth:1.2,borderColor:"#7A2A2A",tension:0.4}))},
      options:{...base,plugins:quiet,scales:{x:{display:false,min:-400,max:400},y:{display:false,min:-400,max:400}}} as any,
    }));
    return ()=>charts.forEach(c=>c.destroy());
  },[]);
  const abs=(l:number,t:number):React.CSSProperties=>({position:"absolute",left:l,top:t});
  const letter=(s:string,l:number,t:number)=><div style={{...abs(l,t),font:`bold 32px ${SANS}`,lineHeight:"32px",color:"#000"}}>{s}</div>;
  return (
    <div style={{position:"fixed",left:0,top:0,width:1901,height:1721,overflow:"hidden",background:"#fff"}}>
      <canvas ref={aRing} width={900} height={900} style={abs(6,15)}/>
      <canvas ref={aPlot} width={360} height={360} style={abs(276,281)}/>
      <canvas ref={bRef} width={1031} height={890} style={abs(870,0)}/>
      <canvas ref={cRef} width={860} height={821} style={abs(0,900)}/>
      <canvas ref={dRing} width={961} height={800} style={abs(940,926)}/>
      <canvas ref={dLine} width={800} height={800} style={abs(940,926)}/>
      {letter("A",19,8)}{letter("B",884,8)}{letter("C",20,906)}{letter("D",884,906)}
    </div>
  );
}
